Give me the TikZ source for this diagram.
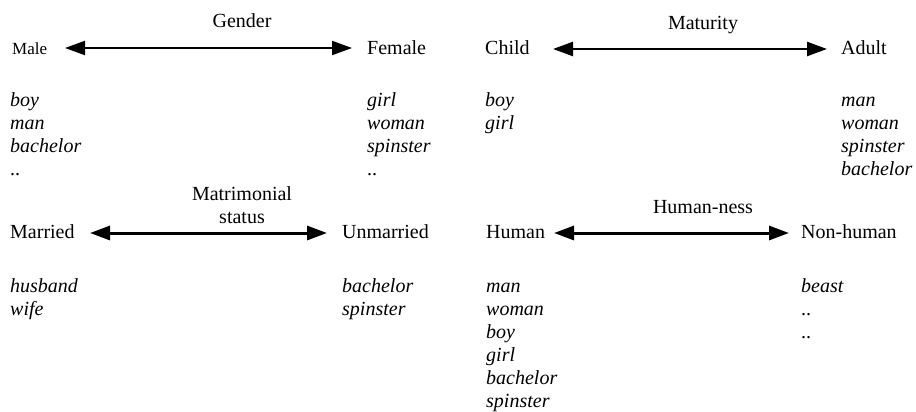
\documentclass[tikz,border=0pt]{standalone}
\usepackage{fontspec}
\setmainfont{Liberation Serif}
\usetikzlibrary{arrows.meta}
\begin{document}
\begin{tikzpicture}[x=1pt,y=-1pt,
  lbl/.style={anchor=base west,inner sep=0pt,font=\fontsize{20}{23}\selectfont},
  ttl/.style={anchor=base,inner sep=0pt,align=center,font=\fontsize{20}{23}\selectfont},
  words/.style={anchor=base west,inner sep=0pt,align=left,font=\fontsize{20}{23}\selectfont\itshape},
  dbl/.style={{Triangle[length=20pt,width=14pt]}-{Triangle[length=20pt,width=14pt]},line width=2.4pt}]
\useasboundingbox (0,0) rectangle (916,412);
% Gender (multi-line nodes are placed by the baseline of their last line)
\node[ttl] (gender) at (242,28) {Gender};
\node[anchor=base west,inner sep=0pt,font=\fontsize{17}{20}\selectfont] (male) at (12,55) {Male};
\node[lbl] (female) at (367,55) {Female};
\coordinate (g1) at (65,48);
\coordinate (g2) at (352,48);
\draw[dbl,line width=2pt] (g1) -- (g2);
\node[words] (mw) at (10,175) {boy\\man\\bachelor\\\upshape ..};
\node[words] (fw) at (367,175) {girl\\woman\\spinster\\\upshape ..};
% Maturity
\node[ttl] (maturity) at (703,30) {Maturity};
\node[lbl] (child) at (485,55) {Child};
\node[lbl] (adult) at (841,55) {Adult};
\coordinate (m1) at (553,49);
\coordinate (m2) at (827,49);
\draw[dbl] (m1) -- (m2);
\node[words] (cw) at (485,129) {boy\\girl};
\node[words] (aw) at (841,175) {man\\woman\\spinster\\bachelor};
% Matrimonial status
\node[ttl] (matr) at (242,223) {Matrimonial\\status};
\node[lbl] (married) at (10,238) {Married};
\node[lbl] (unmarried) at (342,238) {Unmarried};
\coordinate (s1) at (90,233);
\coordinate (s2) at (327,233);
\draw[dbl,line width=3pt] (s1) -- (s2);
\node[words] (marw) at (10,315) {husband\\wife};
\node[words] (unw) at (342,315) {bachelor\\spinster};
% Human-ness
\node[ttl] (humanness) at (703,213) {Human-ness};
\node[lbl] (human) at (486,238) {Human};
\node[lbl] (nonhuman) at (801,238) {Non-human};
\coordinate (h1) at (554,233);
\coordinate (h2) at (789,233);
\draw[dbl,line width=3pt] (h1) -- (h2);
\node[words] (hw) at (486,407) {man\\woman\\boy\\girl\\bachelor\\spinster};
\node[words] (nw) at (801,338) {beast\\\upshape ..\\\upshape ..};
\end{tikzpicture}
\end{document}
